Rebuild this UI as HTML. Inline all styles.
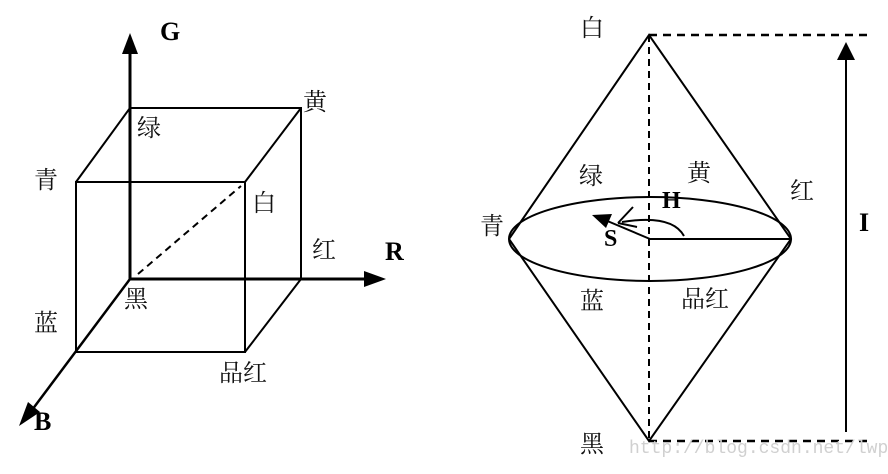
<!DOCTYPE html>
<html><head><meta charset="utf-8"><style>
html,body{margin:0;padding:0;background:#fff}
svg{display:block}
.c{font-family:"Liberation Serif","Noto Serif CJK SC",serif;font-size:24px;fill:#111}
.b{font-family:"Liberation Serif",serif;font-size:26px;font-weight:bold;fill:#000}
</style></head><body>
<svg width="888" height="474" viewBox="0 0 888 474" xmlns="http://www.w3.org/2000/svg">
<g stroke="#000" fill="none" stroke-width="2">
<line x1="130" y1="279" x2="130" y2="52" stroke-width="3"/>
<line x1="130" y1="279" x2="366" y2="279" stroke-width="3"/>
<line x1="130" y1="279" x2="32" y2="410" stroke-width="2.5"/>
<polyline points="130,108 301,108 301,279"/>
<rect x="76" y="182" width="169" height="170"/>
<line x1="130" y1="108" x2="76" y2="182"/>
<line x1="301" y1="108" x2="245" y2="182"/>
<line x1="301" y1="279" x2="245" y2="352"/>
<line x1="138" y1="274" x2="241" y2="186" stroke-dasharray="7,5"/>
<polyline points="509,239 649,35 791,239 649,441 509,239"/>
<ellipse cx="650" cy="239" rx="141" ry="42"/>
<line x1="649" y1="35" x2="649" y2="441" stroke-dasharray="7,5"/>
<line x1="649" y1="35" x2="870" y2="35" stroke-dasharray="8,6" stroke-width="2.5"/>
<line x1="649" y1="441" x2="870" y2="441" stroke-dasharray="8,6" stroke-width="2.5"/>
<line x1="846" y1="58" x2="846" y2="432"/>
<line x1="650" y1="239" x2="790" y2="239"/>
<line x1="650" y1="239" x2="605" y2="220"/>
<path d="M684,236 Q672,214 622,222"/>
<line x1="618" y1="223" x2="633" y2="207"/>
<line x1="618" y1="223" x2="637" y2="227"/>
</g>
<g fill="#000">
<polygon points="130,33 122,54 138,54"/>
<polygon points="386,279 364,271 364,287"/>
<polygon points="19,426 28,402 40,412"/>
<polygon points="846,42 837,60 855,60"/>
<polygon points="592,215 612,214 606,228"/>
</g>
<text class="b" x="160" y="40">G</text>
<text class="b" x="385" y="260">R</text>
<text class="b" x="34" y="430">B</text>
<text class="c" x="303" y="110">黄</text>
<text class="c" x="137" y="136">绿</text>
<text class="c" x="34" y="188">青</text>
<text class="c" x="252" y="211">白</text>
<text class="c" x="312" y="258">红</text>
<text class="c" x="124" y="307">黑</text>
<text class="c" x="34" y="331">蓝</text>
<text class="c" x="219" y="381">品红</text>
<text class="c" x="580" y="36">白</text>
<text class="c" x="580" y="452">黑</text>
<text class="c" x="480" y="234">青</text>
<text class="c" x="579" y="184">绿</text>
<text class="c" x="687" y="181">黄</text>
<text class="c" x="790" y="199">红</text>
<text class="c" x="580" y="309">蓝</text>
<text class="c" x="681" y="307">品红</text>
<text class="b" x="662" y="208" style="font-size:24px">H</text>
<text class="b" x="604" y="246" style="font-size:24px">S</text>
<text class="b" x="859" y="231">I</text>
<text x="629" y="453" style="font-family:'Liberation Mono',monospace;font-size:18px;fill:#d0d0d0">http://blog.csdn.net/lwplw</text>
</svg>
</body></html>
